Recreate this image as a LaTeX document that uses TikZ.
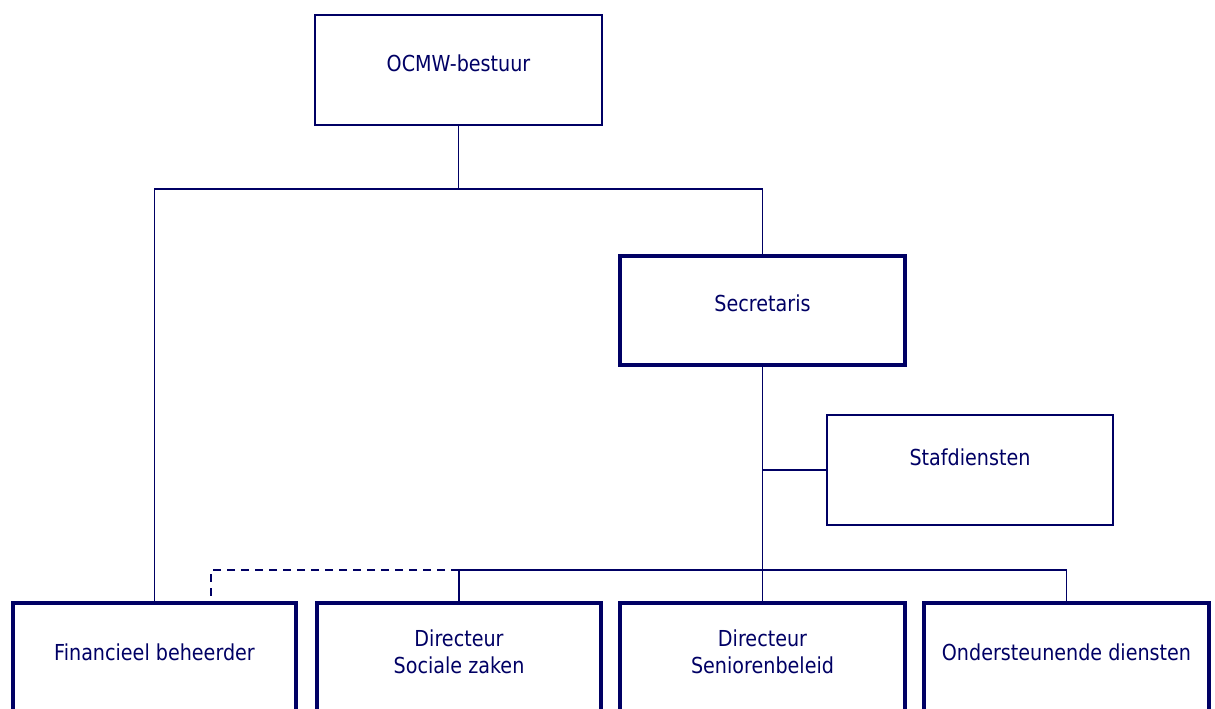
\documentclass[tikz,border=0pt]{standalone}
\usepackage{fontspec}
\setmainfont{DejaVu Sans}[FakeStretch=0.87]
\usetikzlibrary{calc}
\definecolor{navy}{RGB}{0,0,100}
\begin{document}
\begin{tikzpicture}[x=1pt,y=-1pt,
  lbl/.style={font=\fontsize{22}{27}\selectfont, text=navy, align=center, yshift=7pt},
  thinbox/.style={draw=navy, line width=2pt, rectangle, inner sep=0pt, outer sep=0pt},
  thickbox/.style={draw=navy, line width=4pt, rectangle, inner sep=0pt, outer sep=0pt},
  conn/.style={draw=navy, line width=1.8pt},
  dconn/.style={conn, dash pattern=on 8pt off 6pt}]
\useasboundingbox (0,0) rectangle (1215,709);
\begin{scope}
\clip (0,0) rectangle (1215,709);
\node[thinbox, minimum width=287pt, minimum height=110pt, label={[lbl]center:OCMW-bestuur}] (ocmw) at (458.5,70) {};
\node[thickbox, minimum width=285pt, minimum height=109pt, label={[lbl]center:Secretaris}] (secr) at (762.5,310.5) {};
\node[thinbox, minimum width=286pt, minimum height=110pt, label={[lbl,yshift=6pt]center:Stafdiensten}] (staf) at (970,470) {};
\node[thickbox, minimum width=283pt, minimum height=112pt, label={[lbl]center:Financieel beheerder}] (fin) at (154.5,659) {};
\node[thickbox, minimum width=284pt, minimum height=112pt, label={[lbl]center:Directeur\\Sociale zaken}] (dsoc) at (459,659) {};
\node[thickbox, minimum width=285pt, minimum height=112pt, label={[lbl]center:Directeur\\Seniorenbeleid}] (dsen) at (762.5,659) {};
\node[thickbox, minimum width=285pt, minimum height=112pt, label={[lbl]center:Ondersteunende diensten}] (dond) at (1066.5,659) {};
\end{scope}
\coordinate (j1) at ($(ocmw.south)+(0,64)$);
\draw[conn] (ocmw.south) -- (j1);
\draw[conn] (j1) -| (fin.north);
\draw[conn] (j1) -| (secr.north);
\draw[conn] (secr.south) -- (dsen.north);
\draw[conn] (secr.south |- staf.west) -- (staf.west);
\coordinate (j2) at ($(dsoc.north)+(0,-33)$);
\draw[conn] (dsoc.north) -- (j2) -| (dond.north);
\draw[dconn] (j2) -| ($(fin.north)+(56.5,0)$);
\end{tikzpicture}
\end{document}
